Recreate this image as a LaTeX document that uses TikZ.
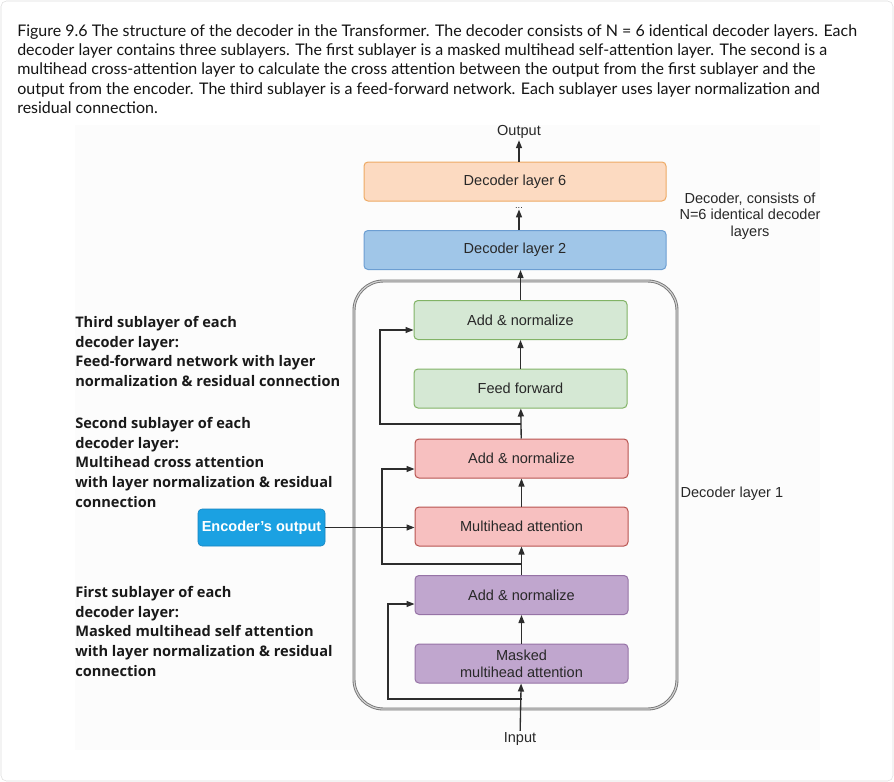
\documentclass[tikz,border=0pt]{standalone}
\usepackage{fontspec}
\setmainfont{Liberation Sans}
\newfontfamily\capfont{Lato}
\newfontfamily\labfont{Open Sans}
\usetikzlibrary{arrows.meta}
\definecolor{txt}{RGB}{40,40,40}
\definecolor{ln}{RGB}{45,45,45}
\definecolor{orfill}{RGB}{252,218,193}
\definecolor{ordraw}{RGB}{238,170,100}
\definecolor{blfill}{RGB}{160,198,232}
\definecolor{bldraw}{RGB}{108,158,210}
\definecolor{grfill}{RGB}{213,232,212}
\definecolor{grdraw}{RGB}{130,179,102}
\definecolor{rdfill}{RGB}{247,192,192}
\definecolor{rddraw}{RGB}{184,84,80}
\definecolor{pufill}{RGB}{192,166,206}
\definecolor{pudraw}{RGB}{150,115,166}
\definecolor{encfill}{RGB}{27,161,226}
\definecolor{encdraw}{RGB}{22,130,190}
\definecolor{cardline}{RGB}{222,222,222}
\definecolor{imgbg}{RGB}{252,252,252}
\begin{document}
\begin{tikzpicture}[x=0.75pt,y=-0.75pt,
  box/.style={draw, rounded corners=3pt, minimum width=159.75pt, minimum height=29.25pt,
    inner sep=0pt, text=txt, font=\fontsize{10.9}{13}\selectfont, align=center, line width=0.75pt},
  widebox/.style={box, minimum width=226.5pt},
  conn/.style={draw=ln, line width=1pt, -{Triangle[length=6pt,width=4.5pt]}},
  plain/.style={text=txt, font=\fontsize{10.9}{12.4}\selectfont, inner sep=1pt},
  sidelab/.style={anchor=north west, inner sep=0pt, align=left, text=black!90,
    font=\labfont\bfseries\fontsize{10.95}{14.8}\selectfont},
  capline/.style={anchor=north west, inner sep=0pt, align=left, text=black!92,
    font=\capfont\fontsize{12}{14.5}\selectfont}]
\useasboundingbox (0,0) rectangle (894,782);
\draw[draw=cardline, fill=white, rounded corners=4pt] (1,1) rectangle (893,781);
\fill[imgbg] (75,125) rectangle (820,750);

\node[capline] (cap) at (17,24) {Figure 9.6 The structure of the decoder in the Transformer. The decoder consists of N = 6 identical decoder layers. Each\\
decoder layer contains three sublayers. The first sublayer is a masked multihead self-attention layer. The second is a\\
multihead cross-attention layer to calculate the cross attention between the output from the first sublayer and the\\
output from the encoder. The third sublayer is a feed-forward network. Each sublayer uses layer normalization and\\
residual connection.};

% big decoder layer 1 frame
\draw[draw=black!55, double=black!18, double distance=0.9pt, line width=0.65pt, rounded corners=22pt]
  (354,281) rectangle (677,709);

% stacked layers
\node[widebox, fill=orfill, draw=ordraw] (dl6) at (515,181.5) {Decoder layer 6};
\node[widebox, fill=blfill, draw=bldraw] (dl2) at (515,250) {Decoder layer 2};
\node[plain] (out) at (519,132) {Output};
\node[plain, font=\fontsize{7}{8}\selectfont, inner sep=0.5pt] (dots) at (519,208) {...};

% sublayers
\node[box, fill=grfill, draw=grdraw] (gan) at (520.5,320) {Add \& normalize};
\node[box, fill=grfill, draw=grdraw] (ff) at (520.5,388.5) {Feed forward};
\node[box, fill=rdfill, draw=rddraw] (ran) at (521.5,458.5) {Add \& normalize};
\node[box, fill=rdfill, draw=rddraw] (mha) at (521.5,526.5) {Multihead attention};
\node[box, fill=pufill, draw=pudraw] (pan) at (521.5,595) {Add \& normalize};
\node[box, fill=pufill, draw=pudraw] (mmha) at (521.5,663.5) {Masked\\multihead attention};
\node[plain] (inp) at (520,739) {Input};

\node[draw=encdraw, fill=encfill, rounded corners=3pt, minimum width=95.25pt, minimum height=27.75pt,
  inner sep=0pt, text=white, font=\bfseries\fontsize{10.9}{13}\selectfont] (enc) at (261.5,527.5) {Encoder’s output};

% right labels
\node[plain, align=center] (declab) at (750,216) {Decoder, consists of\\N=6 identical decoder\\layers};
\node[plain, anchor=west] (dl1lab) at (679,494) {Decoder layer 1};

% left labels
\node[sidelab] (third) at (75,316) {Third sublayer of each\\decoder layer:\\Feed-forward network with layer\\normalization \& residual connection};
\node[sidelab] (second) at (75,417) {Second sublayer of each\\decoder layer:\\Multihead cross attention\\with layer normalization \& residual\\connection};
\node[sidelab] (first) at (75,586) {First sublayer of each\\decoder layer:\\Masked multihead self attention\\with layer normalization \& residual\\connection};

% main flow
\draw[conn] (dl6.north -| out.south) -- (out.south);
\draw[conn] (dl2.north -| dots.south) -- (dots.south);
\draw[conn] (gan.north) -- (gan.north |- dl2.south);
\draw[conn] (ff) -- (gan);
\draw[conn] (ran) -- (ff);
\draw[conn] (pan) -- (mha);
\draw[conn] (mmha) -- (pan);
\draw[conn] (inp) -- (mmha);
\draw[conn] (mha) -- (ran);
\draw[conn] (enc.east) -- (enc.east -| mha.west);

% residual connections
\coordinate (r1) at (521.5,699);
\coordinate (r1c) at (388,699);
\coordinate (r1t) at (388,604);
\draw[conn] (r1) -- (r1c) -- (r1t) -- (r1t -| pan.west);
\coordinate (r2) at (521.5,564);
\coordinate (r2c) at (382,564);
\coordinate (r2t) at (382,469);
\draw[conn] (r2) -- (r2c) -- (r2t) -- (r2t -| ran.west);
\coordinate (r3) at (520.5,424);
\coordinate (r3c) at (380,424);
\coordinate (r3t) at (380,330);
\draw[conn] (r3) -- (r3c) -- (r3t) -- (r3t -| gan.west);
\end{tikzpicture}
\end{document}
